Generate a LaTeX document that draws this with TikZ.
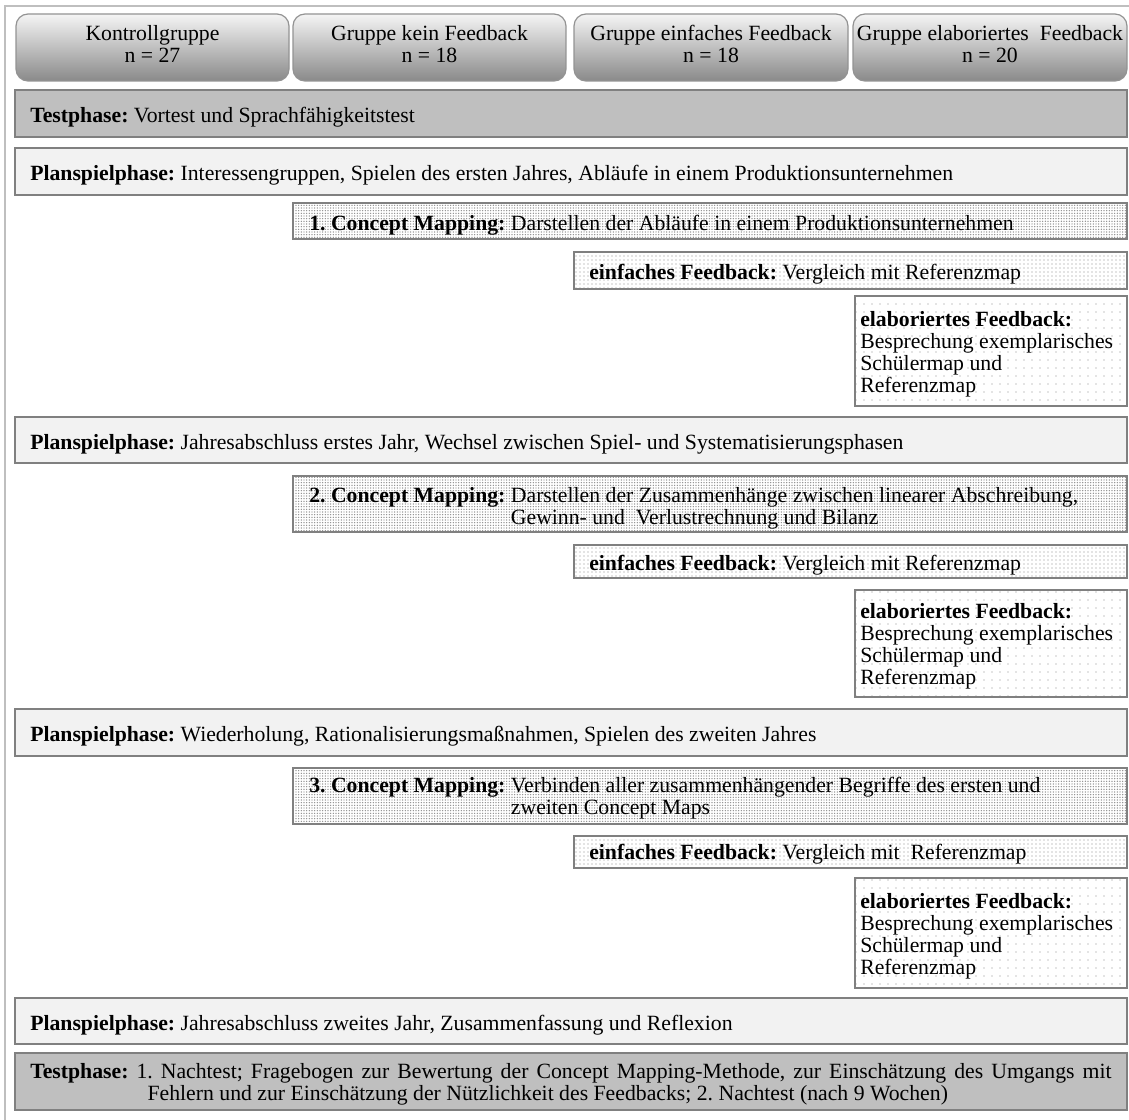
\documentclass[tikz,border=0pt]{standalone}
\usepackage{fontspec}
\setmainfont{Liberation Serif}
\usetikzlibrary{patterns.meta}
\frenchspacing

\definecolor{framegray}{gray}{0.75}
\definecolor{edgegray}{gray}{0.5}
\definecolor{testgray}{gray}{0.75}
\definecolor{playgray}{gray}{0.95}

\tikzset{
  box/.style={draw=edgegray, line width=1.1pt},
  head/.style={draw=edgegray!85, line width=0.9pt, rounded corners=9pt,
    top color=black!4, middle color=black!14, bottom color=black!46},
  testbox/.style={box, fill=testgray},
  playbox/.style={box, fill=playgray},
  cmbox/.style={box, preaction={fill=white},
    pattern={Dots[distance=2pt,radius=0.55pt]}, pattern color=black!45},
  simplebox/.style={box, preaction={fill=white},
    pattern={Dots[distance=3pt,radius=0.45pt]}, pattern color=black!45},
  elabbox/.style={box, preaction={fill=white},
    pattern={Dots[distance=6pt,radius=0.4pt]}, pattern color=black!45},
  txt/.style={anchor=west, inner sep=0pt, align=left, yshift=-3pt},
  headtxt/.style={inner sep=0pt, align=center}
}

\begin{document}
\begin{tikzpicture}[x=0.75pt, y=-0.75pt, font=\fontsize{16.3}{16.5}\selectfont]
  \useasboundingbox (0,0) rectangle (1129,1120);

  % frame
  \draw[framegray, line width=1.5pt] (5,1120) -- (5,6) -- (1129,6);

  % the four groups
  \path[head] (16,14) rectangle (289,81);
  \path[head] (293,14) rectangle (566,81);
  \path[head] (574,14) rectangle (848,81);
  \path[head] (853,14) rectangle (1127,81);
  \node[headtxt] (kontroll) at (152.5,44) {Kontrollgruppe\\ n = 27};
  \node[headtxt] (keinfb)   at (429.5,44) {Gruppe kein Feedback\\ n = 18};
  \node[headtxt] (einfgr)   at (711,44)   {Gruppe einfaches Feedback\\ n = 18};
  \node[headtxt] (elabgr)   at (990,44)   {Gruppe elaboriertes\ \ Feedback\\ n = 20};

  % Vortest
  \draw[testbox] (15,90) rectangle (1127,137);
  \node[txt] (test1) at (30,113.5) {\textbf{Testphase:} Vortest und Sprachfähigkeitstest};

  % first year
  \draw[playbox] (15,148) rectangle (1127,195);
  \node[txt] (play1) at (30,171.5) {\textbf{Planspielphase:} Interessengruppen, Spielen des ersten Jahres, Abläufe in einem Produktionsunternehmen};
  \draw[cmbox] (293,203) rectangle (1127,239);
  \node[txt] (cm1) at (309,221) {\textbf{1. Concept Mapping:} Darstellen der Abläufe in einem Produktionsunternehmen};
  \draw[simplebox] (574,252) rectangle (1127,289);
  \node[txt] (simple1) at (589,270.5) {\textbf{einfaches Feedback:} Vergleich mit Referenzmap};
  \draw[elabbox] (855,296) rectangle (1127,406);
  \node[txt] (elab1) at (860,350) {\textbf{elaboriertes Feedback:}\\ Besprechung exemplarisches\\ Schülermap und\\ Referenzmap};

  % end of first year
  \draw[playbox] (15,417) rectangle (1127,463);
  \node[txt] (play2) at (30,440) {\textbf{Planspielphase:} Jahresabschluss erstes Jahr, Wechsel zwischen Spiel- und Systematisierungsphasen};
  \draw[cmbox] (293,476) rectangle (1127,532);
  \node[txt] (cm2) at (309,505) {\textbf{2. Concept Mapping:}\ \begin{tabular}[t]{@{}l@{}}Darstellen der Zusammenhänge zwischen linearer Abschreibung,\\ Gewinn- und\ \ Verlustrechnung und Bilanz\end{tabular}};
  \draw[simplebox] (574,545) rectangle (1127,578);
  \node[txt] (simple2) at (589,561) {\textbf{einfaches Feedback:} Vergleich mit Referenzmap};
  \draw[elabbox] (855,590) rectangle (1127,697);
  \node[txt] (elab2) at (860,642.5) {\textbf{elaboriertes Feedback:}\\ Besprechung exemplarisches\\ Schülermap und\\ Referenzmap};

  % second year
  \draw[playbox] (15,709) rectangle (1127,756);
  \node[txt] (play3) at (30,732.5) {\textbf{Planspielphase:} Wiederholung, Rationalisierungsmaßnahmen, Spielen des zweiten Jahres};
  \draw[cmbox] (293,768) rectangle (1127,824);
  \node[txt] (cm3) at (309,795) {\textbf{3. Concept Mapping:} \begin{tabular}[t]{@{}l@{}}Verbinden aller zusammenhängender Begriffe des ersten und\\ zweiten Concept Maps\end{tabular}};
  \draw[simplebox] (574,836) rectangle (1127,868);
  \node[txt] (simple3) at (589,850) {\textbf{einfaches Feedback:} Vergleich mit\ \ Referenzmap};
  \draw[elabbox] (855,878) rectangle (1127,988);
  \node[txt] (elab3) at (860,932) {\textbf{elaboriertes Feedback:}\\ Besprechung exemplarisches\\ Schülermap und\\ Referenzmap};

  % end of second year and posttests
  \draw[playbox] (15,998) rectangle (1127,1044);
  \node[txt] (play4) at (30,1021) {\textbf{Planspielphase:} Jahresabschluss zweites Jahr, Zusammenfassung und Reflexion};
  \draw[testbox] (15,1053) rectangle (1127,1110);
  \node[txt] (test2) at (30,1080) {\parbox{811pt}{\textbf{Testphase:} 1. Nachtest; Fragebogen zur Bewertung der Concept Mapping-Methode, zur Einschätzung des Umgangs mit\linebreak\hspace*{88pt}Fehlern und zur Einschätzung der Nützlichkeit des Feedbacks; 2. Nachtest (nach 9 Wochen)}};
\end{tikzpicture}
\end{document}
